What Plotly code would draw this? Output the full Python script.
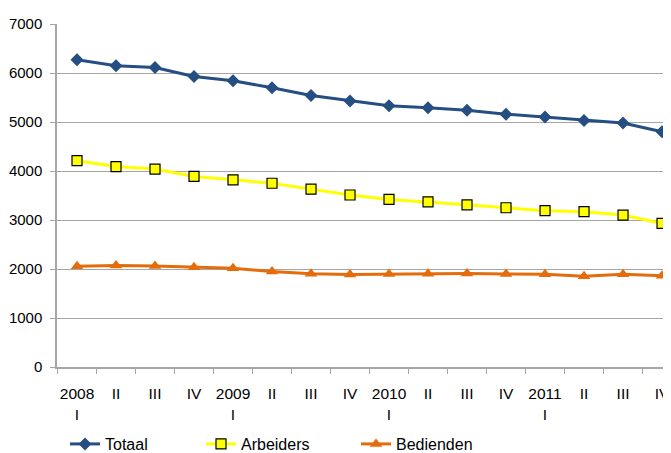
import plotly.graph_objects as go

# Kwartalen
quarters = ["2008<br>I", "II", "III", "IV", "2009<br>I", "II", "III", "IV",
            "2010<br>I", "II", "III", "IV", "2011<br>I", "II", "III", "IV"]

totaal = [6270, 6150, 6110, 5930, 5840, 5700, 5540, 5430,
          5330, 5290, 5240, 5160, 5100, 5030, 4980, 4800]
arbeiders = [4210, 4090, 4040, 3890, 3820, 3750, 3630, 3510,
             3420, 3370, 3310, 3250, 3190, 3170, 3100, 2930]
bedienden = [2055, 2070, 2060, 2035, 2015, 1950, 1905, 1890,
             1900, 1905, 1910, 1900, 1895, 1850, 1895, 1860]

x = list(range(len(quarters)))
font = "Liberation Sans Narrow, Arial Narrow, Arial, sans-serif"

fig = go.Figure()
fig.add_trace(go.Scatter(x=x, y=totaal, name="Totaal", mode="lines+markers",
                         line=dict(color="#254E82", width=3),
                         marker=dict(symbol="diamond", size=10, color="#254E82"),
                         legend="legend", showlegend=True))
fig.add_trace(go.Scatter(x=x, y=arbeiders, name="Arbeiders", mode="lines+markers",
                         line=dict(color="#FFFF00", width=3),
                         marker=dict(symbol="square", size=10, color="#FFFF00",
                                     line=dict(color="#000000", width=1.2)),
                         legend="legend2", showlegend=True))
fig.add_trace(go.Scatter(x=x, y=bedienden, name="Bedienden", mode="lines+markers",
                         line=dict(color="#E46C0A", width=3),
                         marker=dict(symbol="triangle-up", size=11, color="#E46C0A"),
                         legend="legend3", showlegend=True))

# legends placed on the container so they don't push the margins
leg = dict(orientation="h", xref="container", yref="container",
           yanchor="middle", y=0.0202, xanchor="left",
           font=dict(family=font, size=16, color="#000000"), bgcolor="rgba(0,0,0,0)")

# page body adds an 8px offset, so the figure is 8px smaller than the window
fig.update_layout(
    width=663, height=445,
    margin=dict(l=49, r=0, t=16, b=86),
    plot_bgcolor="white", paper_bgcolor="white",
    showlegend=True,
    font=dict(family=font, size=15, color="#222222"),
    legend=dict(leg, x=0.086),
    legend2=dict(leg, x=0.2911),
    legend3=dict(leg, x=0.5249),
    xaxis=dict(tickmode="array", tickvals=x, ticktext=quarters,
               range=[-0.513, 15.23], showgrid=False, zeroline=False,
               showline=True, linecolor="#A6A6A6", linewidth=1.5,
               ticks="", ticklabelstandoff=12, automargin=False,
               minor=dict(ticks="outside", ticklen=5, tickcolor="#A6A6A6",
                          tick0=-0.5, dtick=1, showgrid=False),
               tickfont=dict(family=font, size=15.5, color="#000000")),
    yaxis=dict(range=[0, 7000], dtick=1000, showgrid=True, gridcolor="#A6A6A6",
               gridwidth=1, zeroline=False, showline=True, linecolor="#A6A6A6",
               linewidth=1.5, ticks="outside", ticklen=5, tickcolor="#A6A6A6",
               ticklabelstandoff=5, automargin=False,
               tickfont=dict(family=font, size=15, color="#000000")),
)

fig.write_html("out.html")
